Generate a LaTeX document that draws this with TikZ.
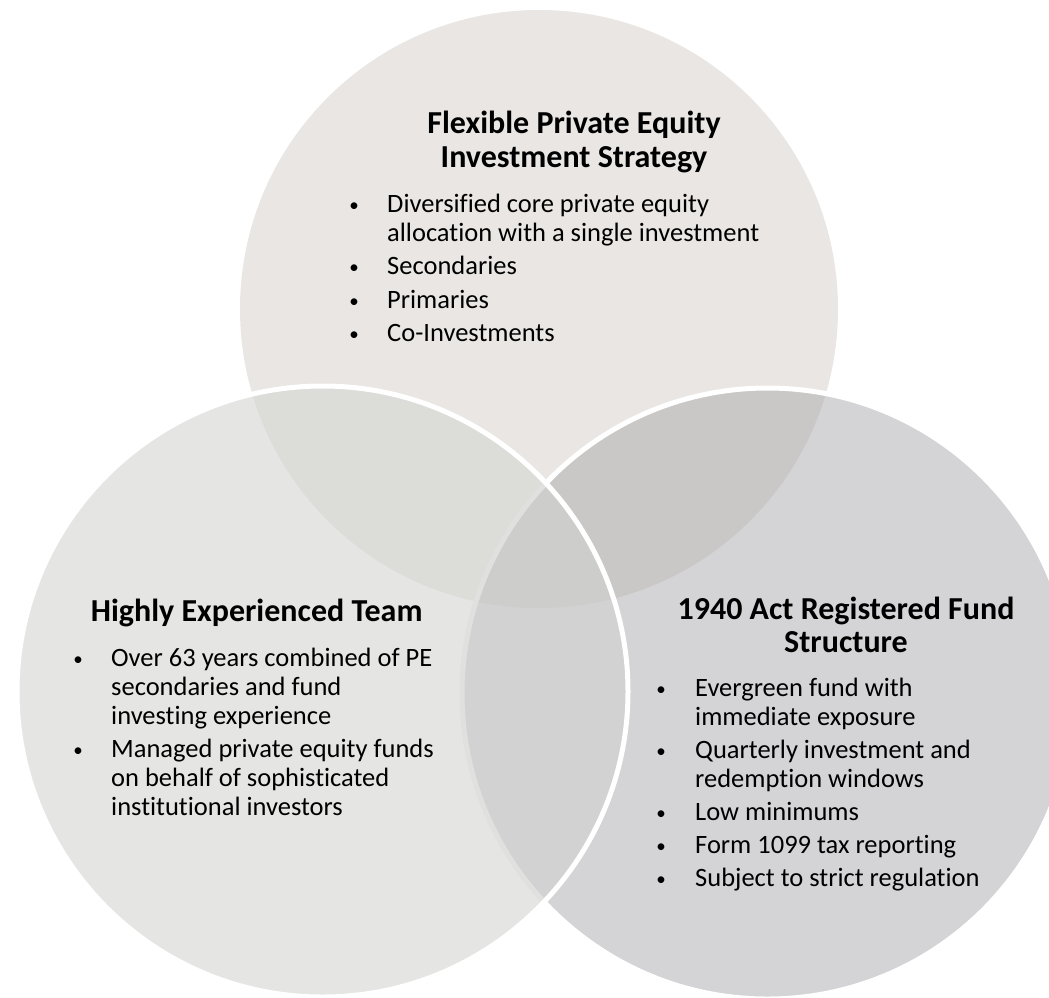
\documentclass[tikz,border=0pt]{standalone}
\usepackage{fontspec}
\setmainfont{Carlito}[Ligatures={CommonOff}]
\definecolor{topc}{HTML}{E9E6E3}
\definecolor{leftc}{HTML}{E5E6E4}
\definecolor{rightc}{HTML}{D4D4D6}
\definecolor{tlc}{HTML}{DCDCD9}
\definecolor{trc}{HTML}{C9C8C7}
\definecolor{lrc}{HTML}{D1D2D1}
\definecolor{tlrc}{HTML}{CDCECC}
\definecolor{faintc}{HTML}{E0E1DF}
\begin{document}
\begin{tikzpicture}[x=1pt,y=-1pt,
  body/.style={anchor=base west, inner sep=0pt, font=\fontsize{26.5}{29}\selectfont},
  bul/.style={anchor=base, inner sep=0pt, yshift=1pt, font=\fontsize{19}{20}\selectfont},
  ttl/.style={anchor=base, inner sep=0pt, font=\fontsize{32}{34}\selectfont\bfseries},
  rim/.style={draw=white, line width=5pt}]
\useasboundingbox (0,0) rectangle (1049,997);
\coordinate (T) at (539,309);
\coordinate (L) at (322.5,691.5);
\coordinate (R) at (767.5,693.5);
% top circle
\fill[topc] (T) circle[radius=299pt];
% right circle
\fill[rightc] (R) circle[radius=305.5pt];
\begin{scope}
  \clip (T) circle[radius=299pt];
  \fill[trc] (R) circle[radius=305.5pt];
\end{scope}
\draw[rim] (R) circle[radius=305.5pt];
% left circle
\fill[leftc] (L) circle[radius=305.5pt];
\begin{scope}
  \clip (L) circle[radius=305.5pt];
  \fill[tlc] (T) circle[radius=299pt];
  \fill[lrc] (R) circle[radius=305.5pt];
  \clip (T) circle[radius=299pt];
  \fill[tlrc] (R) circle[radius=305.5pt];
\end{scope}
\begin{scope}
  \clip (L) circle[radius=305.5pt];
  \draw[draw=faintc, line width=5pt] (R) circle[radius=305.5pt];
\end{scope}
\draw[rim] (L) circle[radius=305.5pt];

% top texts
\node[ttl] (tt1) at (574,133) {Flexible Private Equity};
\node[ttl] (tt2) at (574,167) {Investment Strategy};
\node[bul] (tb1) at (354,212) {•};
\node[body] (tx1) at (387,212) {Diversified core private equity};
\node[body] (tx2) at (387,241) {allocation with a single investment};
\node[bul] (tb2) at (354,274.5) {•};
\node[body] (tx3) at (387,274.5) {Secondaries};
\node[bul] (tb3) at (354,308) {•};
\node[body] (tx4) at (387,308) {Primaries};
\node[bul] (tb4) at (354,341.5) {•};
\node[body] (tx5) at (387,341.5) {Co-Investments};

% left texts
\node[ttl] (lt1) at (256.7,621.7) {Highly Experienced Team};
\node[bul] (lb1) at (78,666) {•};
\node[body] (lx1) at (111,666) {Over 63 years combined of PE};
\node[body] (lx2) at (111,695) {secondaries and fund};
\node[body] (lx3) at (111,724) {investing experience};
\node[bul] (lb2) at (78,757) {•};
\node[body] (lx4) at (111,757) {Managed private equity funds};
\node[body] (lx5) at (111,786) {on behalf of sophisticated};
\node[body] (lx6) at (111,815) {institutional investors};

% right texts
\node[ttl] (rt1) at (846,619) {1940 Act Registered Fund};
\node[ttl] (rt2) at (846,652) {Structure};
\node[bul] (rb1) at (661,696) {•};
\node[body] (rx1) at (695,696) {Evergreen fund with};
\node[body] (rx2) at (695,725) {immediate exposure};
\node[bul] (rb2) at (661,758) {•};
\node[body] (rx3) at (695,758) {Quarterly investment and};
\node[body] (rx4) at (695,787) {redemption windows};
\node[bul] (rb3) at (661,820) {•};
\node[body] (rx5) at (695,820) {Low minimums};
\node[bul] (rb4) at (661,853) {•};
\node[body] (rx6) at (695,853) {Form 1099 tax reporting};
\node[bul] (rb5) at (661,886) {•};
\node[body] (rx7) at (695,886) {Subject to strict regulation};
\end{tikzpicture}
\end{document}
